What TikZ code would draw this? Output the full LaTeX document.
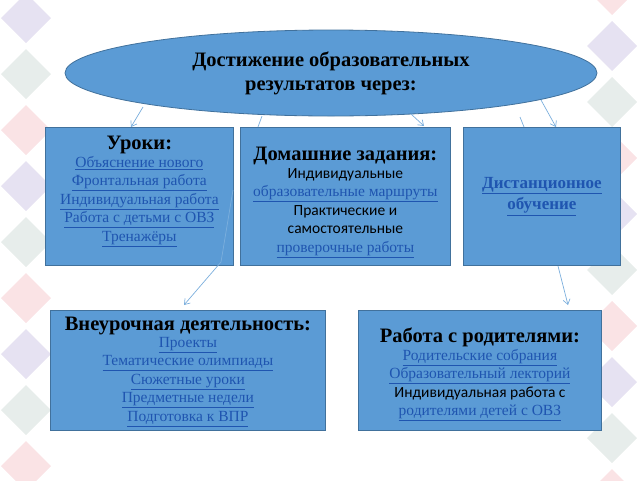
\documentclass[tikz,border=0pt]{standalone}
\usepackage{fontspec}
\setmainfont{Liberation Serif}
\newfontfamily\cb{Carlito}
\usetikzlibrary{shapes.geometric,arrows.meta}
\definecolor{bfill}{HTML}{5B9BD5}
\definecolor{bedge}{HTML}{41719C}
\definecolor{lnk}{HTML}{1F55B0}
\definecolor{pk}{HTML}{F8D7DA}
\definecolor{lv}{HTML}{DCD6EC}
\definecolor{gg}{HTML}{DDE5E2}
\newcommand{\lk}[1]{\textcolor{lnk}{\underline{#1}}}
\tikzset{
 box/.style={draw=bedge,fill=bfill,line width=0.8pt,inner sep=0pt,align=center,anchor=north west},
 conn/.style={draw=bfill!80,line width=0.7pt,-{Straight Barb[length=5pt,width=7pt]}},
 itm/.style={align=center,font=\fontsize{15.5}{18.5}\selectfont},
}
\newcommand{\ttl}{\bfseries\fontsize{20.5}{22}\selectfont}
\begin{document}
\begin{tikzpicture}[x=1pt,y=-1pt]
\useasboundingbox (0,0) rectangle (640,480);
\begin{scope}
\clip (0,0) rectangle (640,480);
\foreach \i in {0,...,9}{
 \foreach \j in {0,1}{
  \pgfmathtruncatemacro{\c}{mod(\i+\j,3)}
  \ifcase\c \def\col{pk}\or\def\col{lv}\or\def\col{gg}\fi
  \pgfmathsetmacro{\yy}{\i*56+mod(\j,2)*28-10}
  \pgfmathsetmacro{\xl}{\j*56-30}
  \pgfmathsetmacro{\xr}{612+\j*56}
  \fill[\col,opacity=0.7] (\xl,\yy-25)--(\xl+25,\yy)--(\xl,\yy+25)--(\xl-25,\yy)--cycle;
  \fill[\col,opacity=0.7] (\xr,\yy-25)--(\xr+25,\yy)--(\xr,\yy+25)--(\xr-25,\yy)--cycle;
 }}
\end{scope}
\node[draw=bedge,fill=bfill,ellipse,line width=0.8pt,minimum width=532,minimum height=86,align=center,font=\bfseries\fontsize{20.5}{24}\selectfont] (top) at (331,73) {Достижение образовательных\\результатов через:};
\node[box,minimum width=188,minimum height=138] (a) at (45,127) {};
\node[itm,anchor=north] at ([yshift=-6]a.north) {{\ttl Уроки:}\\[-1pt]\lk{Объяснение нового}\\\lk{Фронтальная работа}\\\lk{Индивидуальная работа}\\\lk{Работа с детьми с ОВЗ}\\\lk{Тренажёры}};
\node[box,minimum width=210,minimum height=138] (b) at (240,127) {};
\node[itm] at ([yshift=-6]b.center) {{\ttl Домашние задания:}\\[-1pt]{\cb Индивидуальные}\\\lk{образовательные маршруты}\\{\cb Практические и}\\{\cb самостоятельные}\\\lk{проверочные работы}};
\node[box,minimum width=157,minimum height=138] (c) at (463,127) {};
\node[align=center,font=\bfseries\fontsize{17}{21}\selectfont] at (c.center) {\lk{Дистанционное}\\\lk{обучение}};
\node[box,minimum width=275,minimum height=120] (d) at (50,310) {};
\node[itm,anchor=north] at ([yshift=-4]d.north) {{\ttl Внеурочная деятельность:}\\[-2pt]\lk{Проекты}\\\lk{Тематические олимпиады}\\\lk{Сюжетные уроки}\\\lk{Предметные недели}\\\lk{Подготовка к ВПР}};
\node[box,minimum width=243,minimum height=120] (e) at (358,310) {};
\node[itm] at ([yshift=-4]e.center) {{\ttl Работа с родителями:}\\[-1pt]\lk{Родительские собрания}\\\lk{Образовательный лекторий}\\{\cb Индивидуальная работа с}\\\lk{родителями детей с ОВЗ}};
\draw[conn] (143,107) -- (131,127);
\draw[conn] (411,114) -- (424,126);
\draw[conn] (541,100) -- (556,127);
\draw[draw=bfill!80,line width=0.7pt] (262,116) -- (258,127);
\draw[conn] (233,190) -- (221,262) -- (184,305);
\draw[draw=bfill!80,line width=0.7pt] (520,117) -- (524,127);
\draw[conn] (558,266) -- (568,305);
\end{tikzpicture}
\end{document}
